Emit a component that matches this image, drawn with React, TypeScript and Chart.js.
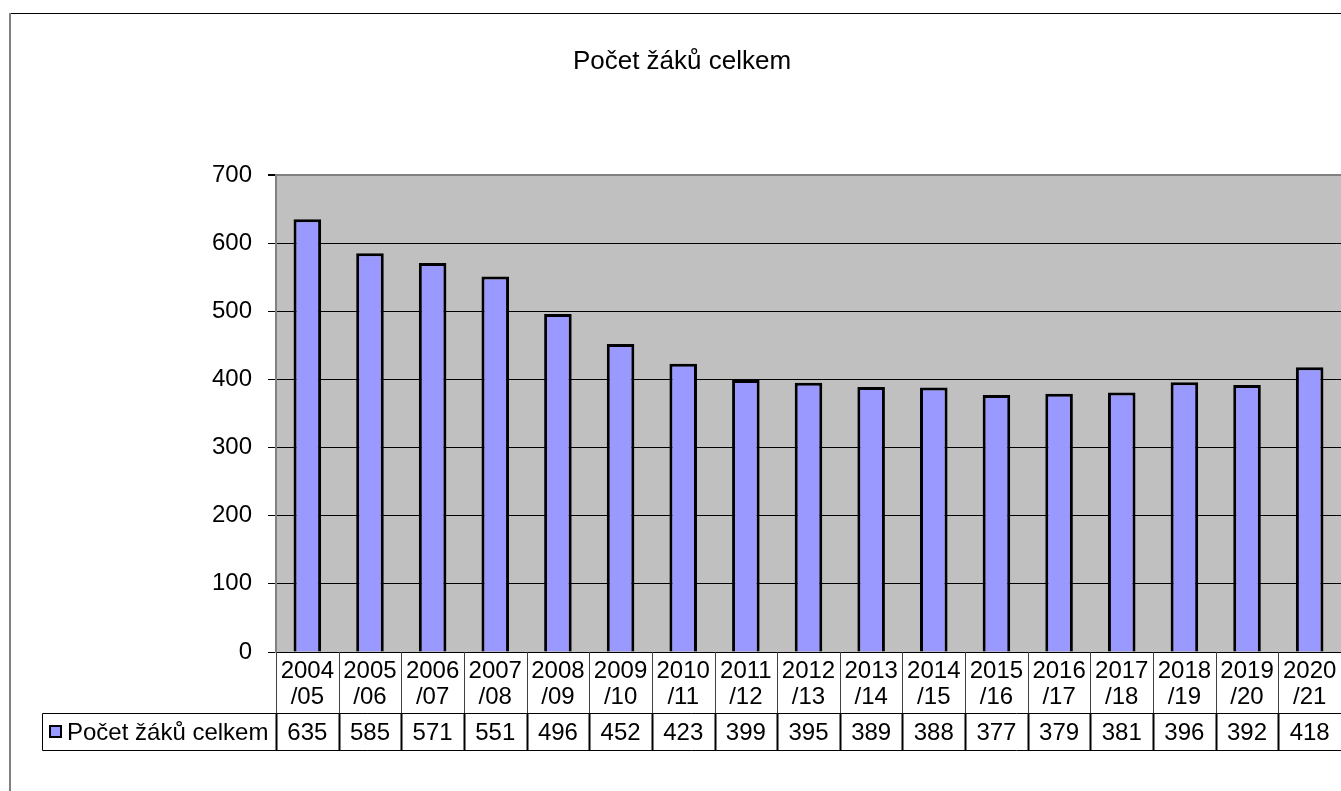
import React, { useEffect, useRef } from "react";
import { Chart, registerables } from "chart.js";

Chart.register(...registerables);

const TITLE = "Počet žáků celkem";
const SERIES_NAME = "Počet žáků celkem";
const CATEGORIES = [
  "2004/05", "2005/06", "2006/07", "2007/08", "2008/09", "2009/10",
  "2010/11", "2011/12", "2012/13", "2013/14", "2014/15", "2015/16",
  "2016/17", "2017/18", "2018/19", "2019/20", "2020/21",
];
const VALUES = [635, 585, 571, 551, 496, 452, 423, 399, 395, 389, 388, 377, 379, 381, 396, 392, 418];
const Y_MIN = 0;
const Y_MAX = 700;
const Y_STEP = 100;

const FONT = "'Liberation Sans', Arial, sans-serif";
const BAR_FILL = "#9999FF";
const PLOT_BG = "#C0C0C0";

const W = 1341;
const H = 791;

const framePlugin = {
  id: "frame",
  beforeDraw(chart: any) {
    const { ctx, chartArea: a } = chart;
    ctx.save();
    ctx.fillStyle = "#ffffff";
    ctx.fillRect(0, 0, chart.width, chart.height);
    ctx.fillStyle = PLOT_BG;
    ctx.fillRect(a.left, a.top, a.right - a.left, a.bottom - a.top);
    ctx.restore();
  },
  afterDraw(chart: any) {
    const { ctx, chartArea: a } = chart;
    const xs = chart.scales.x;
    ctx.save();
    // outer frame
    ctx.strokeStyle = "#000";
    ctx.lineWidth = 1;
    ctx.beginPath();
    ctx.moveTo(9, 13.5);
    ctx.lineTo(W, 13.5);
    ctx.stroke();
    ctx.strokeStyle = "#808080";
    ctx.lineWidth = 2;
    ctx.beginPath();
    ctx.moveTo(10, 13);
    ctx.lineTo(10, H);
    ctx.stroke();

    // title
    ctx.fillStyle = "#000";
    ctx.font = `26px ${FONT}`;
    ctx.textAlign = "center";
    ctx.textBaseline = "middle";
    ctx.fillText(TITLE, 682, 62);

    // data table
    const half = (xs.getPixelForValue(1) - xs.getPixelForValue(0)) / 2;
    const top = a.bottom;
    const mid = 713.5;
    const bot = 750.5;
    const legL = 42.5;

    ctx.strokeStyle = "#000";
    ctx.lineWidth = 1;
    ctx.beginPath();
    ctx.moveTo(a.left, top + 0.5);
    ctx.lineTo(W, top + 0.5);
    ctx.moveTo(legL, mid);
    ctx.lineTo(W, mid);
    ctx.moveTo(legL, bot);
    ctx.lineTo(W, bot);
    ctx.moveTo(legL, mid);
    ctx.lineTo(legL, bot);
    ctx.stroke();

    ctx.font = `24px ${FONT}`;
    for (let i = 0; i < CATEGORIES.length; i++) {
      const cx = xs.getPixelForValue(i);
      const lx = Math.round(cx - half) + 0.5;
      ctx.strokeStyle = "#404040";
      ctx.lineWidth = 1;
      ctx.beginPath();
      ctx.moveTo(lx, top);
      ctx.lineTo(lx, mid);
      ctx.stroke();
      ctx.strokeStyle = "#000";
      ctx.lineWidth = 2;
      ctx.beginPath();
      ctx.moveTo(lx, mid);
      ctx.lineTo(lx, bot);
      ctx.stroke();

      const parts = CATEGORIES[i].split("/");
      ctx.fillStyle = "#000";
      ctx.textAlign = "center";
      ctx.textBaseline = "middle";
      ctx.fillText(parts[0], cx, 671);
      ctx.fillText("/" + parts[1], cx, 697);
      ctx.fillText(String(chart.data.datasets[0].data[i]), cx, 733);
    }

    // legend key
    ctx.fillStyle = BAR_FILL;
    ctx.fillRect(50, 726, 11, 11);
    ctx.strokeStyle = "#000";
    ctx.lineWidth = 2;
    ctx.strokeRect(50, 726, 11, 11);
    ctx.fillStyle = "#000";
    ctx.textAlign = "left";
    ctx.font = `24px ${FONT}`;
    ctx.fillText(SERIES_NAME, 67, 733);
    ctx.restore();
  },
};

export default function App() {
  const ref = useRef<HTMLCanvasElement>(null);
  useEffect(() => {
    if (!ref.current) return;
    const chart = new Chart(ref.current, {
      type: "bar",
      data: {
        labels: CATEGORIES,
        datasets: [
          {
            label: SERIES_NAME,
            data: VALUES,
            backgroundColor: BAR_FILL,
            borderColor: "#000",
            borderWidth: 3,
            borderSkipped: "start",
            categoryPercentage: 1,
            barPercentage: 0.44,
          },
        ],
      },
      options: {
        responsive: false,
        animation: false,
        devicePixelRatio: 1,
        layout: { padding: { left: 0, top: 175, right: 0, bottom: H - 652 } },
        plugins: {
          legend: { display: false },
          title: { display: false },
          tooltip: { enabled: false },
        },
        scales: {
          x: { display: false },
          y: {
            min: Y_MIN,
            max: Y_MAX,
            afterFit(scale: any) {
              scale.width = 276;
            },
            ticks: {
              stepSize: Y_STEP,
              padding: 16,
              color: "#000",
              font: { family: FONT, size: 24 },
            },
            grid: {
              color: (c: any) => (c.tick && c.tick.value === Y_MAX ? "#808080" : "#000"),
              lineWidth: (c: any) => (c.tick && c.tick.value === Y_MAX ? 2 : 1),
              tickLength: 8,
              tickColor: "#000",
              drawTicks: true,
            },
            border: { color: "#808080", width: 2 },
          },
        },
      },
      plugins: [framePlugin],
    });
    return () => chart.destroy();
  }, []);
  return (
    <div style={{ position: "absolute", left: 0, top: 0, width: W, height: H, overflow: "hidden" }}>
      <canvas ref={ref} width={W} height={H} style={{ display: "block" }} />
    </div>
  );
}
